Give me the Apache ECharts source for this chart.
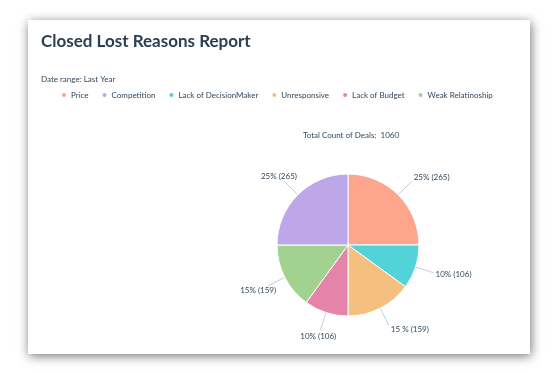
<!DOCTYPE html>
<html>
<head>
<meta charset="utf-8">
<script src="https://cdn.jsdelivr.net/npm/echarts@6/dist/echarts.min.js"></script>
<style>
html,body{margin:0;padding:0;background:#fff;}
#chart{width:558px;height:373px;}
</style>
</head>
<body>
<div id="chart"></div>
<script>
// ---- data ----
const legendOrder = ['Price', 'Competition', 'Lack of DecisionMaker', 'Unresponsive', 'Lack of Budget', 'Weak Relatinoship'];
const sliceNames = ['Price', 'Lack of DecisionMaker', 'Unresponsive', 'Lack of Budget', 'Weak Relatinoship', 'Competition'];
const sliceValues = [265, 106, 159, 106, 159, 265];
const sliceLabels = ['25% (265)', '10% (106)', '15 % (159)', '10% (106)', '15% (159)', '25% (265)'];
const sliceColors = ['#FEA58E', '#51D3D9', '#F5C07F', '#E683A8', '#A2D28F', '#BDA7E8'];
const titleText = 'Closed Lost Reasons Report';
const dateRange = 'Date range: Last Year';
const totalLabel = 'Total Count of Deals:';

const total = sliceValues.reduce((a, b) => a + b, 0);
const FONT = 'Lato, "Noto Sans", sans-serif';
const TXT = '#33475b';

const chart = echarts.init(document.getElementById('chart'));
chart.setOption({
  animation: false,
  backgroundColor: '#ffffff',
  graphic: [{
    type: 'rect', z: -10, silent: true,
    shape: { x: 28, y: 20, width: 502, height: 334 },
    style: { fill: '#ffffff', shadowBlur: 10, shadowColor: 'rgba(0,0,0,0.55)', shadowOffsetX: 1, shadowOffsetY: 2 }
  }],
  title: [
    { text: titleText, left: 41, top: 33, padding: 0, textStyle: { fontFamily: FONT, fontSize: 17, fontWeight: 'bold', color: '#2d3e50' } },
    { text: dateRange, left: 41, top: 75, padding: 0, textStyle: { fontFamily: FONT, fontSize: 8, fontWeight: 'normal', color: TXT } },
    { text: totalLabel + '  ' + total, left: 351, top: 131, padding: 0, textAlign: 'center', textStyle: { fontFamily: FONT, fontSize: 8, fontWeight: 'normal', color: TXT } }
  ],
  legend: {
    data: legendOrder,
    left: 60, top: 91, padding: 0,
    icon: 'circle', itemWidth: 6, itemHeight: 6, itemGap: 12,
    textStyle: { fontFamily: FONT, fontSize: 8, color: TXT, padding: [0, 0, 0, -1] }
  },
  series: [{
    type: 'pie',
    center: [348, 245],
    radius: 71,
    startAngle: 90,
    clockwise: true,
    avoidLabelOverlap: false,
    itemStyle: { borderColor: '#ffffff', borderWidth: 1 },
    label: { show: true, fontFamily: FONT, fontSize: 8, color: TXT,
      formatter: p => sliceLabels[p.dataIndex] },
    labelLine: { show: true, length: 19, length2: 0, lineStyle: { color: '#c5cfdc', width: 1 } },
    labelLayout: function (params) {
      const pts = params.labelLinePoints;
      if (!pts) return {};
      const p0 = pts[0], p1 = pts[1];
      const dx = p1[0] - p0[0], dy = p1[1] - p0[1];
      const L = Math.hypot(dx, dy) || 1;
      const ux = dx / L, uy = dy / L;
      const w = params.labelRect.width, h = params.labelRect.height;
      if (ux > 0.2) {
        return {
          x: p1[0] + 2, y: p1[1] + uy * 5,
          align: 'left', verticalAlign: 'middle',
          labelLinePoints: [p0, p1, p1]
        };
      }
      const t = Math.min(Math.abs(ux) > 1e-3 ? (w / 2) / Math.abs(ux) : 1e9, Math.abs(uy) > 1e-3 ? (h / 2) / Math.abs(uy) : 1e9);
      return {
        x: p1[0] + ux * (t + 2),
        y: p1[1] + uy * (t + 2),
        align: 'center', verticalAlign: 'middle',
        labelLinePoints: [p0, p1, p1]
      };
    },
    data: sliceNames.map((n, i) => ({ name: n, value: sliceValues[i], itemStyle: { color: sliceColors[i] } }))
  }]
});
</script>
</body>
</html>
